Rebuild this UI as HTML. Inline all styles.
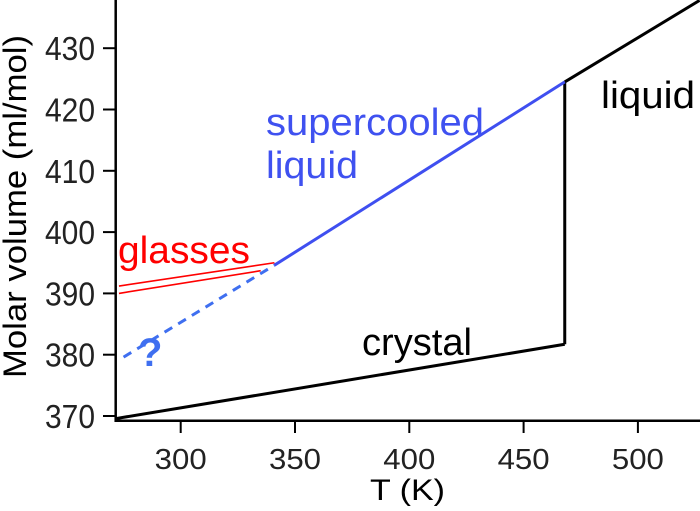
<!DOCTYPE html>
<html><head><meta charset="utf-8"><style>
body{margin:0;background:#fff}
svg{display:block;font-family:"Liberation Sans",sans-serif}
</style></head><body>
<svg id="chart" width="700" height="511" viewBox="0 0 700 511" xmlns="http://www.w3.org/2000/svg">
<g id="axes"></g>
<g id="marks"></g>
<g id="labels">
<text x="266" y="135" font-size="38" fill="#3f51f0" textLength="218" lengthAdjust="spacingAndGlyphs">supercooled</text>
<text x="266" y="178" font-size="38" fill="#3f51f0" textLength="92" lengthAdjust="spacingAndGlyphs">liquid</text>
<text x="601" y="108" font-size="38" fill="#000" textLength="94" lengthAdjust="spacingAndGlyphs">liquid</text>
<text x="118" y="263" font-size="38" fill="#f00" textLength="132" lengthAdjust="spacingAndGlyphs">glasses</text>
<text x="362" y="355" font-size="38" fill="#000" textLength="110" lengthAdjust="spacingAndGlyphs">crystal</text>
<text x="138" y="366" font-size="40" font-weight="bold" fill="#3f6ff0">?</text>
<text x="370" y="500" font-size="30" textLength="75" lengthAdjust="spacingAndGlyphs">T (K)</text>
<text transform="translate(26,378) rotate(-90)" font-size="32" textLength="343" lengthAdjust="spacingAndGlyphs">Molar volume (ml/mol)</text>
</g>
</svg>
<script>
const xTicks=[300,350,400,450,500];
const yTicks=[370,380,390,400,410,420,430];
const crystalT=[272,468];
const crystalV=[369.6,381.7];
const meltT=[468,468];
const meltV=[381.7,424.5];
const liquidT=[468,527];
const liquidV=[424.5,437.8];
const supercooledT=[341,468];
const supercooledV=[394.6,424.5];
const extrapT=[275,341];
const extrapV=[379.6,394.6];
const glass1T=[273,341];
const glass1V=[391.2,395];
const glass2T=[273,335];
const glass2V=[390,393.7];

const X=t=>180.7+(t-300)*2.286;
const Y=v=>416-(v-370)*6.13;
const NS="http://www.w3.org/2000/svg";
const axes=document.getElementById('axes'), marks=document.getElementById('marks');
function mk(tag,attrs,parent){const e=document.createElementNS(NS,tag);for(const k in attrs)e.setAttribute(k,attrs[k]);parent.appendChild(e);return e;}
let e=mk('path',{d:'M115.7 0 V420.7 H700',fill:'none',stroke:'#000','stroke-width':2.5},axes);


xTicks.forEach(t=>{
 let l=mk('line',{x1:X(t),x2:X(t),y1:420.7,y2:433,stroke:'#000','stroke-width':2},axes);
 
 
 let tx=mk('text',{x:X(t),y:469,'font-size':29,'text-anchor':'middle',fill:'#222',textLength:52,lengthAdjust:'spacingAndGlyphs'},axes);
 tx.textContent=t;
 
 
});
yTicks.forEach(v=>{
 let l=mk('line',{x1:103,x2:115.7,y1:Y(v),y2:Y(v),stroke:'#000','stroke-width':2},axes);
 
 
 let tx=mk('text',{x:95,y:Y(v)+12,'font-size':33,'text-anchor':'end',fill:'#222',textLength:50,lengthAdjust:'spacingAndGlyphs'},axes);
 tx.textContent=v;
 
 
});
function line(T,V,color,name,extra){
 const a={x1:X(T[0]),y1:Y(V[0]),x2:X(T[1]),y2:Y(V[1]),stroke:color,'stroke-width':3};
 Object.assign(a,extra||{});
 const l=mk('line',a,marks);
 
 
}
line(crystalT,crystalV,'#000','crystal-line');
line(meltT,meltV,'#000','melting-line');
line(liquidT,liquidV,'#000','liquid-line');
line(supercooledT,supercooledV,'#3f4ff0','supercooled-line');
line(extrapT,extrapV,'#3f6ff0','extrapolated-line',{'stroke-dasharray':'9 7'});
line(glass1T,glass1V,'#f00','glass-line-1',{'stroke-width':1.6});
line(glass2T,glass2V,'#f00','glass-line-2',{'stroke-width':1.6});
</script>
</body></html>
